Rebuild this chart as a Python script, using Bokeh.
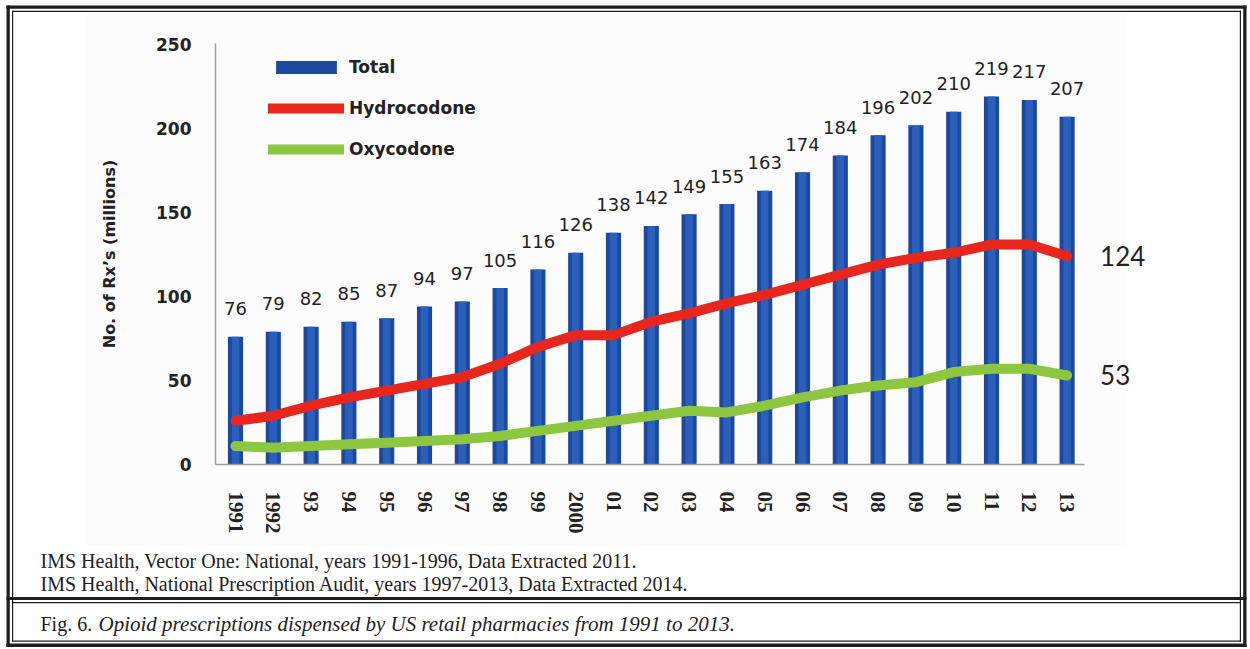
from bokeh.plotting import figure
from bokeh.models import ColumnDataSource, Legend, LegendItem, FixedTicker
from bokeh.core.properties import value
from bokeh.embed import file_html
from bokeh.resources import INLINE

# ---------------- data ----------------
years = ["1991", "1992", "93", "94", "95", "96", "97", "98", "99", "2000",
         "01", "02", "03", "04", "05", "06", "07", "08", "09", "10", "11", "12", "13"]
total = [76, 79, 82, 85, 87, 94, 97, 105, 116, 126, 138, 142, 149, 155, 163,
         174, 184, 196, 202, 210, 219, 217, 207]
hydrocodone = [26, 29, 35, 40, 44, 48, 52, 60, 70, 77, 77, 85, 90, 96, 101,
               107, 113, 119, 123, 126, 131, 131, 124]
oxycodone = [11, 10, 11, 12, 13, 14, 15, 17, 20, 23, 26, 29, 32, 31, 35,
             40, 44, 47, 49, 55, 57, 57, 53]
y_ticks = [0, 50, 100, 150, 200, 250]
series_names = ["Total", "Hydrocodone", "Oxycodone"]
source_lines = ["IMS Health, Vector One: National, years 1991-1996, Data Extracted 2011.",
                "IMS Health, National Prescription Audit, years 1997-2013, Data Extracted 2014."]
caption_prefix = "Fig. 6."
caption_text = "Opioid prescriptions dispensed by US retail pharmacies from 1991 to 2013."
y_label = "No. of Rx\u2019s (millions)"

# ---------------- style / geometry ----------------
BLUE = "#1D489F"
BLUE_LIGHT = "#2A5FBC"
RED = "#E8261E"
GREEN = "#8DC63F"
INK = "#222222"
RULE = "#1e1e1e"

W, H = 1250, 649
PXX = 37.8          # px per category step
PXY = 1.68          # px per unit on the value axis
BAR0_PX = 235       # canvas x of first category
BASE_PX = 464       # canvas y of value 0
X0 = -BAR0_PX / PXX
Y_TOP = BASE_PX / PXY


def dx(cx):
    return X0 + cx / PXX


def dy(cy):
    return Y_TOP - cy / PXY


xs = list(range(len(years)))
src = ColumnDataSource(dict(x=xs, total=total, total_label=[str(v) for v in total],
                            hydro=hydrocodone, oxy=oxycodone))
end_src = ColumnDataSource(dict(x=[xs[-1], xs[-1]],
                                y=[hydrocodone[-1], oxycodone[-1]],
                                t=[str(hydrocodone[-1]), str(oxycodone[-1])]))

p = figure(width=W, height=H, output_backend="svg", toolbar_location=None,
           x_range=(dx(0), dx(W)), y_range=(dy(H), dy(0)),
           min_border_left=0, min_border_top=0, min_border_right=0, min_border_bottom=0)
p.background_fill_color = "white"
p.border_fill_color = "white"
p.outline_line_color = None
p.xgrid.visible = False
p.ygrid.visible = False

# faint background of the embedded chart picture
p.quad(left=[dx(86)], right=[dx(1125)], top=[dy(14)], bottom=[dy(545)],
       fill_color="#FCFCFC", line_color=None)

r_bar = p.vbar(x="x", top="total", width=0.40, source=src,
               fill_color=BLUE, line_color=None)
p.vbar(x="x", top="total", width=0.20, source=src,
       fill_color=BLUE_LIGHT, line_color=None)
r_h = p.line("x", "hydro", source=src, line_color=RED, line_width=10,
             line_join="round", line_cap="round")
r_o = p.line("x", "oxy", source=src, line_color=GREEN, line_width=10,
             line_join="round", line_cap="round")

p.text(x="x", y="total", text="total_label", source=src, y_offset=-28,
       text_align="center", text_baseline="middle",
       text_font=value("DejaVu Sans"), text_font_size="18px", text_color=INK)
p.text(x="x", y="y", text="t", source=end_src, x_offset=33,
       text_align="left", text_baseline="middle",
       text_font=value("Lato"), text_font_size="26px", text_color=INK)

# axes (fixed inside the full-canvas frame)
y_axis_x = dx(215)
x_axis_right = dx(1084)
p.yaxis.fixed_location = y_axis_x
p.yaxis.bounds = (0, dy(43))
p.yaxis.ticker = FixedTicker(ticks=y_ticks)
p.yaxis.major_tick_line_color = None
p.yaxis.minor_tick_line_color = None
p.yaxis.axis_line_color = "#A0A0A0"
p.yaxis.axis_line_width = 1.5
p.yaxis.major_label_standoff = 18
p.yaxis.major_label_text_font = "DejaVu Sans"
p.yaxis.major_label_text_font_style = "bold"
p.yaxis.major_label_text_font_size = "17px"
p.yaxis.major_label_text_color = INK
p.yaxis.axis_label = y_label
p.yaxis.axis_label_text_font = "DejaVu Sans"
p.yaxis.axis_label_text_font_style = "bold"
p.yaxis.axis_label_text_font_size = "16px"
p.yaxis.axis_label_text_color = INK
p.yaxis.axis_label_standoff = 34

p.xaxis.fixed_location = 0
p.xaxis.bounds = (y_axis_x, x_axis_right)
p.xaxis.ticker = FixedTicker(ticks=xs)
p.xaxis.major_label_overrides = {i: y for i, y in enumerate(years)}
p.xaxis.major_label_orientation = "vertical"
p.xaxis.major_tick_line_color = None
p.xaxis.minor_tick_line_color = None
p.xaxis.axis_line_color = "#A0A0A0"
p.xaxis.axis_line_width = 1.5
p.xaxis.major_label_standoff = 21
p.xaxis.major_label_text_font = "Liberation Serif"
p.xaxis.major_label_text_font_style = "bold"
p.xaxis.major_label_text_font_size = "21px"
p.xaxis.major_label_text_color = INK

# legend
legend = Legend(items=[LegendItem(label=series_names[0], renderers=[r_bar]),
                       LegendItem(label=series_names[1], renderers=[r_h]),
                       LegendItem(label=series_names[2], renderers=[r_o])],
                location=(268, 485), orientation="vertical",
                glyph_width=76, glyph_height=16, label_height=31, spacing=10,
                padding=0, margin=0, label_standoff=5,
                border_line_color=None, background_fill_alpha=0,
                label_text_font="DejaVu Sans", label_text_font_style="bold",
                label_text_font_size="17px", label_text_color=INK)
p.add_layout(legend)

# source notes and caption
note_x = [dx(40), dx(40), dx(40), dx(98)]
note_y = [dy(560), dy(583), dy(623), dy(623)]
note_t = [source_lines[0], source_lines[1], caption_prefix, caption_text]
note_style = ["normal", "normal", "normal", "italic"]
note_size = ["20px", "20px", "20px", "21px"]
p.text(x=note_x, y=note_y, text=note_t, text_font_style=note_style,
       text_font_size=note_size,
       text_align="left", text_baseline="middle",
       text_font=value("Liberation Serif"), text_color=INK)

# page frame rules (canvas px: left, right, top, bottom)
rules = [
    (6, 1246, 5, 8.3),        # top thick
    (11.5, 1240.5, 10.3, 11.5),  # top thin
    (6, 1246, 643, 646.5),    # bottom thick
    (11.5, 1240.5, 640, 641.2),  # bottom thin
    (6, 9.3, 5, 646.5),       # left thick
    (11.5, 12.7, 10.3, 641.2),   # left thin
    (1242.7, 1246, 5, 646.5),  # right thick
    (1239.3, 1240.5, 10.3, 641.2),  # right thin
    (6, 1246, 596.5, 599.5),  # separator thick
    (11.5, 1240.5, 601.5, 602.7),  # separator thin
]
p.quad(left=[dx(r[0]) for r in rules], right=[dx(r[1]) for r in rules],
       top=[dy(r[2]) for r in rules], bottom=[dy(r[3]) for r in rules],
       fill_color=RULE, line_color=None)

open("out.html", "w").write(file_html(p, INLINE))
